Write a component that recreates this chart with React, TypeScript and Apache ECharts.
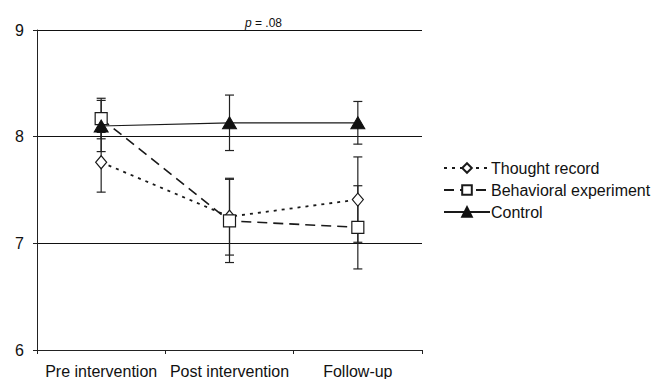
import React, { useEffect, useRef } from "react";
import * as echarts from "echarts";

const categories = ["Pre intervention", "Post intervention", "Follow-up"];
const seriesNames = ["Thought record", "Behavioral experiment", "Control"];
const thoughtMean = [7.76, 7.25, 7.41];
const thoughtErr = [0.28, 0.36, 0.4];
const behavMean = [8.17, 7.21, 7.15];
const behavErr = [0.19, 0.39, 0.39];
const controlMean = [8.1, 8.13, 8.13];
const controlErr = [0.24, 0.26, 0.2];
const yTicks = [6, 7, 8, 9];

export default function App() {
  const ref = useRef<HTMLDivElement>(null);
  useEffect(() => {
    if (!ref.current) return;
    const chart = echarts.init(ref.current, undefined, { renderer: "svg" });
    const errData: number[][] = [];
    const groups = [
      [thoughtMean, thoughtErr],
      [behavMean, behavErr],
      [controlMean, controlErr],
    ];
    groups.forEach(([m, e]) => {
      m.forEach((v, i) => errData.push([i, v - e[i], v + e[i]]));
    });
    const lineColor = "#1a1a1a";
    const font = "Liberation Sans, Arial, sans-serif";
    const option: any = {
      animation: false,
      backgroundColor: "#fff",
      title: {
        text: "{i|p} = .08",
        left: 240,
        top: 12,
        textStyle: {
          fontFamily: font,
          fontSize: 12,
          fontWeight: "normal",
          color: "#111",
          rich: {
            i: { fontStyle: "italic", fontFamily: font, fontSize: 12, color: "#111" },
          },
        },
      },
      grid: { left: 37, right: 232, top: 30, bottom: 29 },
      legend: {
        orient: "vertical",
        left: 438,
        top: 155,
        itemWidth: 46,
        itemHeight: 12,
        itemGap: 6,
        data: seriesNames,
        textStyle: { fontFamily: font, fontSize: 16, color: "#111", padding: [0, 0, 0, -4] },
      },
      xAxis: {
        type: "category",
        data: categories,
        boundaryGap: true,
        axisLine: { lineStyle: { color: "#222", width: 1 } },
        axisTick: { show: true, length: 4, inside: false, lineStyle: { color: "#222" } },
        axisLabel: { interval: 0, hideOverlap: false, margin: 13, fontFamily: font, fontSize: 16, color: "#111" },
        splitLine: { show: false },
      },
      yAxis: {
        type: "value",
        min: yTicks[0],
        max: yTicks[yTicks.length - 1],
        interval: 1,
        axisLine: { show: true, lineStyle: { color: "#222", width: 1 } },
        axisTick: { show: true, length: 4, lineStyle: { color: "#222" } },
        axisLabel: { margin: 13, fontFamily: font, fontSize: 16, color: "#111" },
        splitLine: { show: true, lineStyle: { color: "#111", width: 1 } },
      },
      series: [
        {
          type: "custom",
          name: "err",
          z: 1,
          silent: true,
          data: errData,
          renderItem: (params: any, api: any) => {
            const x = api.value(0);
            const lo = api.coord([x, api.value(1)]);
            const hi = api.coord([x, api.value(2)]);
            const hw = 4.5;
            const st = { stroke: "#222", lineWidth: 1.2 };
            return {
              type: "group",
              children: [
                { type: "line", shape: { x1: lo[0], y1: lo[1], x2: hi[0], y2: hi[1] }, style: st },
                { type: "line", shape: { x1: lo[0] - hw, y1: lo[1], x2: lo[0] + hw, y2: lo[1] }, style: st },
                { type: "line", shape: { x1: hi[0] - hw, y1: hi[1], x2: hi[0] + hw, y2: hi[1] }, style: st },
              ],
            };
          },
        },
        {
          type: "line",
          name: seriesNames[0],
          data: thoughtMean,
          z: 3,
          symbol: "diamond",
          symbolSize: [11, 13],
          lineStyle: { color: lineColor, width: 1.8, type: [3, 5] },
          itemStyle: { color: "#fff", borderColor: lineColor, borderWidth: 1.2 },
        },
        {
          type: "line",
          name: seriesNames[1],
          data: behavMean,
          z: 4,
          symbol: "rect",
          symbolSize: 12,
          lineStyle: { color: lineColor, width: 1.6, type: [10, 6] },
          itemStyle: { color: "#fff", borderColor: lineColor, borderWidth: 1.2 },
        },
        {
          type: "line",
          name: seriesNames[2],
          data: controlMean,
          z: 5,
          symbol: "triangle",
          symbolSize: [14, 12],
          lineStyle: { color: lineColor, width: 1.2, type: "solid" },
          itemStyle: { color: "#111", borderColor: "#111", borderWidth: 1 },
        },
      ],
    };
    chart.setOption(option);
    return () => chart.dispose();
  }, []);
  return <div ref={ref} style={{ width: 654, height: 379, position: "absolute", left: 0, top: 0 }} />;
}
